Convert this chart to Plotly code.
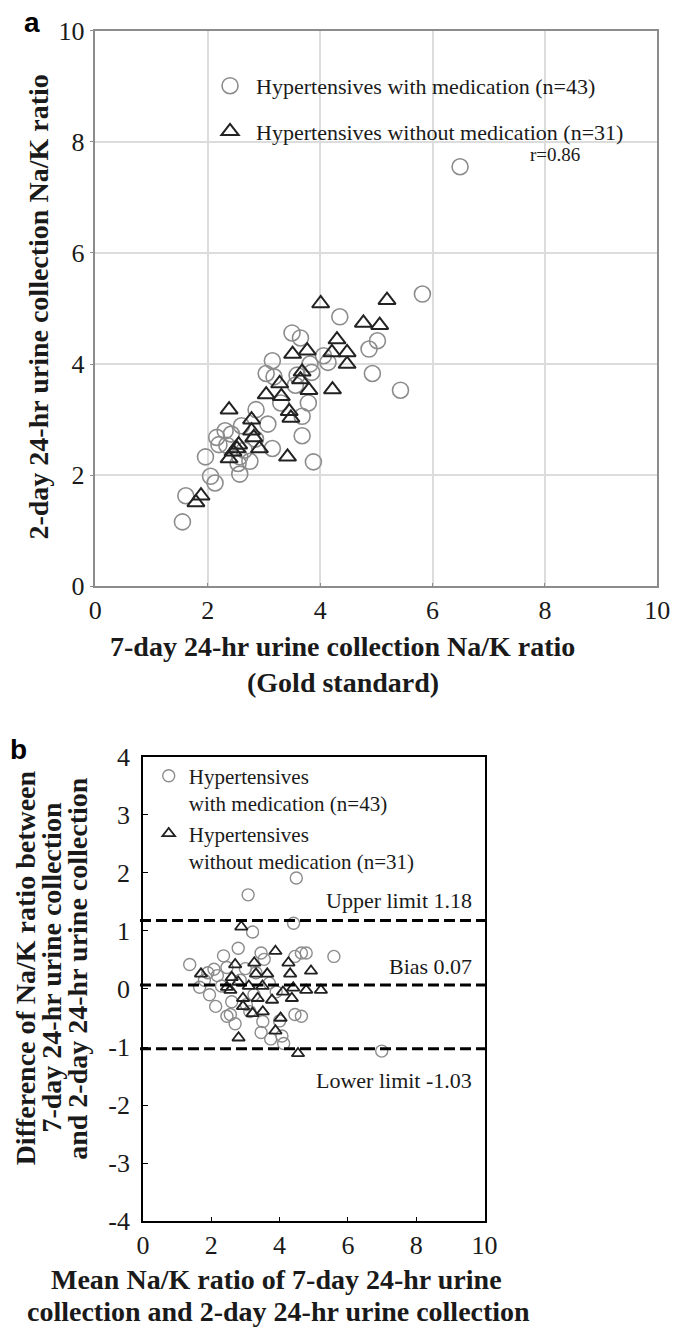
import plotly.graph_objects as go

W, H = 681, 1341
def px(x): return x / W
def py(y): return 1 - y / H

# ---------------- data ----------------
# Panel a: 7-day (x) vs 2-day (y) Na/K ratio
a_med_x = [6.49, 5.82, 4.35, 3.50, 3.65, 5.02, 4.87, 4.06, 4.14, 3.15, 3.82, 3.04, 3.18, 3.59, 4.93,
           3.56, 5.43, 3.79, 2.86, 3.68, 3.07, 2.16, 2.31, 2.42, 2.60, 3.68, 3.15, 2.34, 1.96, 2.57,
           2.54, 3.88, 2.57, 2.05, 2.13, 1.61, 1.55, 2.20, 2.75, 3.30, 2.85, 3.85, 2.65]
a_med_y = [7.55, 5.26, 4.85, 4.56, 4.47, 4.42, 4.27, 4.15, 4.03, 4.06, 4.00, 3.83, 3.77, 3.80, 3.83,
           3.62, 3.53, 3.30, 3.18, 3.06, 2.92, 2.68, 2.80, 2.74, 2.89, 2.71, 2.48, 2.54, 2.33, 2.33,
           2.21, 2.24, 2.02, 1.98, 1.86, 1.63, 1.16, 2.55, 2.25, 3.30, 2.65, 3.85, 2.45]
a_nomed_x = [4.01, 5.19, 4.77, 5.06, 4.30, 3.51, 3.77, 4.21, 4.48, 4.48, 3.68, 3.28, 3.80, 4.22, 3.04,
             3.31, 3.45, 3.48, 2.38, 2.78, 2.82, 2.92, 2.52, 2.38, 3.42, 1.88, 1.79, 2.78, 2.45, 3.65, 2.55]
a_nomed_y = [5.09, 5.15, 4.74, 4.70, 4.44, 4.18, 4.24, 4.21, 4.21, 4.00, 3.86, 3.65, 3.53, 3.54, 3.45,
             3.42, 3.15, 3.03, 3.18, 3.00, 2.68, 2.48, 2.48, 2.30, 2.33, 1.63, 1.51, 2.80, 2.42, 3.72, 2.55]

# Panel b: Bland-Altman (mean vs difference)
b_med_x = [4.49, 3.08, 4.41, 3.21, 2.79, 2.36, 3.46, 4.64, 4.78, 5.59, 1.37, 2.08, 1.90, 2.18, 3.55,
           2.46, 1.66, 2.13, 2.46, 2.60, 3.03, 3.13, 3.51, 3.46, 3.74, 4.07, 4.12, 4.45, 4.45, 3.31,
           4.64, 6.99, 2.56, 2.85, 3.90, 2.30, 1.80, 3.00, 3.70, 2.70, 3.25, 4.00, 1.95]
b_med_y = [1.91, 1.62, 1.13, 0.98, 0.70, 0.57, 0.62, 0.62, 0.62, 0.56, 0.42, 0.34, 0.28, 0.23, 0.51,
           0.37, 0.03, -0.30, -0.47, -0.22, -0.27, -0.39, -0.56, -0.75, -0.86, -0.81, -0.94, -0.44, 0.56, 0.28,
           -0.47, -1.07, -0.44, 0.15, -0.05, 0.05, 0.15, 0.35, 0.10, -0.60, -0.10, -0.55, -0.10]
b_nomed_x = [2.88, 3.88, 1.70, 2.70, 3.26, 3.31, 3.64, 4.26, 4.31, 2.46, 2.79, 2.56, 2.93, 3.36, 3.78,
             2.93, 3.21, 3.51, 4.03, 3.88, 2.80, 4.36, 4.54, 4.92, 4.78, 5.21, 4.40, 3.50, 2.60, 4.10, 3.10]
b_nomed_y = [1.07, 0.65, 0.26, 0.42, 0.45, 0.26, 0.26, 0.45, 0.26, 0.03, 0.12, -0.02, -0.16, -0.16, -0.19,
             -0.30, -0.42, -0.39, -0.50, -0.72, -0.84, -0.16, -1.11, 0.31, -0.02, -0.02, 0.02, 0.05, 0.20, -0.05, 0.05]

limit_values = [1.18, 0.07, -1.03]
limit_labels = ["Upper limit 1.18", "Bias 0.07", "Lower limit -1.03"]
limit_label_y = [1.52, 0.38, -1.58]

ticks_a = [0, 2, 4, 6, 8, 10]
ticks_b_x = [0, 2, 4, 6, 8, 10]
ticks_b_y = [-4, -3, -2, -1, 0, 1, 2, 3, 4]

name_med_a = "Hypertensives with medication (n=43)"
name_nomed_a = "Hypertensives without medication (n=31)"
name_med_b = "Hypertensives<br>with medication (n=43)"
name_nomed_b = "Hypertensives<br>without medication (n=31)"

SERIF = "Liberation Serif"
TXT = "#1a1a1a"
CIRC = "#8c8c8c"
TRI = "#222222"

fig = go.Figure()

fig.add_trace(go.Scatter(x=a_med_x, y=a_med_y, mode="markers", name=name_med_a,
                         legendgroup="a1", legend="legend", xaxis="x", yaxis="y",
                         marker=dict(symbol="circle-open", size=16, color=CIRC, line=dict(width=1.6, color=CIRC))))
fig.add_trace(go.Scatter(x=a_nomed_x, y=a_nomed_y, mode="markers", name=name_nomed_a,
                         legendgroup="a2", legend="legend", xaxis="x", yaxis="y",
                         marker=dict(symbol="triangle-up-open", size=15, color=TRI, line=dict(width=2, color=TRI))))
fig.add_trace(go.Scatter(x=b_med_x, y=b_med_y, mode="markers", name=name_med_b,
                         legendgroup="b1", legend="legend2", xaxis="x2", yaxis="y2",
                         marker=dict(symbol="circle-open", size=12, color=CIRC, line=dict(width=1.4, color=CIRC))))
fig.add_trace(go.Scatter(x=b_nomed_x, y=b_nomed_y, mode="markers", name=name_nomed_b,
                         legendgroup="b2", legend="legend2", xaxis="x2", yaxis="y2",
                         marker=dict(symbol="triangle-up-open", size=11, color=TRI, line=dict(width=1.8, color=TRI))))

tickfont = dict(family=SERIF, size=26, color=TXT)

fig.update_layout(
    width=W, height=H, autosize=False,
    margin=dict(l=0, r=0, t=0, b=0),
    paper_bgcolor="white", plot_bgcolor="white",
    font=dict(family=SERIF, color=TXT),
    xaxis=dict(domain=[px(91), px(670)], range=[0, 10], tickvals=ticks_a, ticktext=[str(v) for v in ticks_a],
               showgrid=True, gridcolor="#dcdcdc", gridwidth=1.5, zeroline=False,
               showline=True, linecolor="#8c8c8c", linewidth=1.5, mirror=True,
               ticks="inside", ticklen=4, tickcolor="#8c8c8c", tickfont=tickfont, anchor="y"),
    yaxis=dict(domain=[py(585), py(17)], range=[0, 10], tickvals=ticks_a, ticktext=[str(v) for v in ticks_a],
               showgrid=True, gridcolor="#dcdcdc", gridwidth=1.5, zeroline=False,
               showline=True, linecolor="#8c8c8c", linewidth=1.5, mirror=True,
               ticks="outside", ticklen=4, tickcolor="#8c8c8c", tickfont=tickfont, anchor="x"),
    xaxis2=dict(domain=[px(140), px(492)], range=[0, 10], tickvals=ticks_b_x, ticktext=[str(v) for v in ticks_b_x],
                showgrid=False, zeroline=False,
                showline=True, linecolor="black", linewidth=1.5, mirror=True,
                ticks="inside", ticklen=5, tickcolor="black", tickfont=tickfont, anchor="y2"),
    yaxis2=dict(domain=[py(1234), py(759)], range=[-4, 4], tickvals=ticks_b_y, ticktext=[str(v) for v in ticks_b_y],
                showgrid=False, zeroline=False,
                showline=True, linecolor="black", linewidth=1.5, mirror=True,
                ticks="inside", ticklen=5, tickcolor="black", tickfont=tickfont, anchor="x2",
                ticklabelstandoff=6),
    legend=dict(x=px(203), y=py(52), xanchor="left", yanchor="top", bgcolor="rgba(0,0,0,0)",
                font=dict(family=SERIF, size=22, color=TXT), tracegroupgap=14, traceorder="grouped",
                itemwidth=42),
    legend2=dict(x=px(146), y=py(758), xanchor="left", yanchor="top", bgcolor="rgba(0,0,0,0)",
                 font=dict(family=SERIF, size=21, color=TXT), tracegroupgap=0, traceorder="grouped",
                 valign="top", itemwidth=30),
)

shapes = []
for v in limit_values:
    shapes.append(dict(type="line", xref="paper", yref="y2", x0=px(137), x1=px(497), y0=v, y1=v,
                       line=dict(color="black", width=3, dash="11px,5px")))
fig.update_layout(shapes=shapes)

ann = []
for lab, yy in zip(limit_labels, limit_label_y):
    ann.append(dict(text=lab, xref="paper", yref="y2", x=px(481), y=yy, xanchor="right", yanchor="middle",
                    showarrow=False, font=dict(family=SERIF, size=22, color=TXT)))
ann.append(dict(text="r=0.86", xref="paper", yref="paper", x=px(565), y=py(144), xanchor="center",
                yanchor="middle", showarrow=False, font=dict(family=SERIF, size=19, color=TXT)))
BOLD = dict(family=SERIF, size=28, color=TXT)
ann.append(dict(text="<b>7-day 24-hr urine collection Na/K ratio</b>", xref="paper", yref="paper",
                x=px(346), y=py(646), xanchor="center", yanchor="middle", showarrow=False, font=BOLD))
ann.append(dict(text="<b>(Gold standard)</b>", xref="paper", yref="paper",
                x=px(346), y=py(683), xanchor="center", yanchor="middle", showarrow=False, font=BOLD))
ann.append(dict(text="<b>2-day 24-hr urine collection Na/K ratio</b>", xref="paper", yref="paper",
                x=px(32), y=py(300), xanchor="center", yanchor="middle", textangle=-90, showarrow=False, font=BOLD))
for xx, t in zip([19, 46, 73], ["Difference of Na/K ratio between", "7-day 24-hr urine collection",
                                "and 2-day 24-hr urine collection"]):
    ann.append(dict(text="<b>" + t + "</b>", xref="paper", yref="paper", x=px(xx), y=py(975),
                    xanchor="center", yanchor="middle", textangle=-90, showarrow=False, font=BOLD))
ann.append(dict(text="<b>Mean Na/K ratio of 7-day 24-hr urine</b>", xref="paper", yref="paper",
                x=px(278), y=py(1293), xanchor="center", yanchor="middle", showarrow=False, font=BOLD))
ann.append(dict(text="<b>collection and 2-day 24-hr urine collection</b>", xref="paper", yref="paper",
                x=px(280), y=py(1326), xanchor="center", yanchor="middle", showarrow=False, font=BOLD))
ann.append(dict(text="<b>a</b>", xref="paper", yref="paper", x=px(26), y=py(9), xanchor="center",
                yanchor="middle", showarrow=False, font=dict(family="Liberation Sans", size=28, color="black")))
ann.append(dict(text="<b>b</b>", xref="paper", yref="paper", x=px(12), y=py(752), xanchor="center",
                yanchor="middle", showarrow=False, font=dict(family="Liberation Sans", size=28, color="black")))
fig.update_layout(annotations=ann)

fig.write_html("out.html", config={"displayModeBar": False},
               post_script="document.body.style.margin='0px';")
